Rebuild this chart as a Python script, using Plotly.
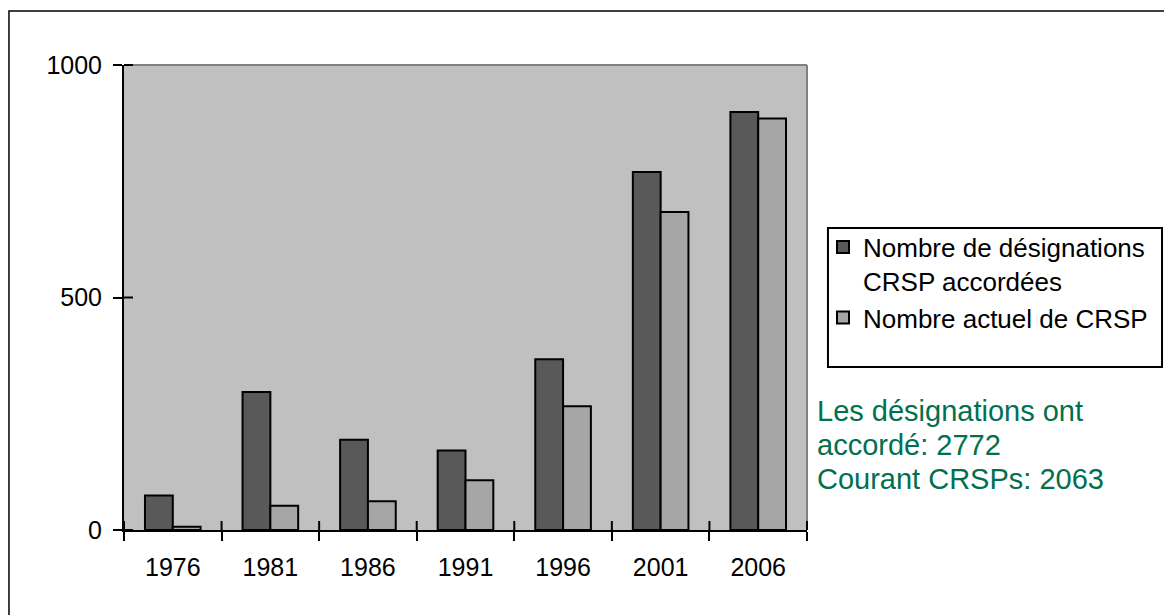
import plotly.graph_objects as go

years = ["1976", "1981", "1986", "1991", "1996", "2001", "2006"]
granted = [74, 297, 194, 171, 367, 770, 899]
current = [7, 52, 62, 107, 266, 684, 885]
series_names = ["Nombre de désignations<br>CRSP accordées", "Nombre actuel de CRSP"]
note_lines = ["Les désignations ont", "accordé: 2772", "Courant CRSPs: 2063"]
note_y = [0.2559, 0.1828, 0.1097]
y_ticks = [0, 500, 1000]

FONT = "Liberation Sans, Arial, sans-serif"
TICKLEN = 9

fig = go.Figure()
fig.add_trace(go.Bar(x=years, y=granted, name=series_names[0],
                     marker=dict(color="#595959", line=dict(color="black", width=2))))
fig.add_trace(go.Bar(x=years, y=current, name=series_names[1],
                     marker=dict(color="#A6A6A6", line=dict(color="black", width=2))))

fig.update_layout(
    width=1164, height=607,
    margin=dict(l=116, r=365, t=57, b=85),
    paper_bgcolor="white",
    plot_bgcolor="#C0C0C0",
    barmode="group",
    bargap=0.43,
    bargroupgap=0,
    font=dict(family=FONT, color="black", size=25),
    showlegend=True,
    legend=dict(x=1.0234, y=0.659, xanchor="left", yanchor="top",
                bgcolor="rgba(0,0,0,0)", borderwidth=0, valign="top",
                font=dict(size=26, family=FONT), tracegroupgap=0),
    xaxis=dict(type="category", categoryorder="array", categoryarray=years,
               range=[-0.5, len(years) - 0.5], tickson="boundaries", ticks="outside",
               ticklen=TICKLEN, tickwidth=2, tickcolor="black", showline=True,
               linecolor="black", linewidth=2, showgrid=False, zeroline=False,
               ticklabelstandoff=14, tickfont=dict(size=25, family=FONT)),
    yaxis=dict(range=[0, 1000], tickvals=y_ticks, ticks="outside", ticklen=TICKLEN,
               tickwidth=2, tickcolor="black", showline=True, linecolor="black",
               linewidth=2, showgrid=False, zeroline=False, ticklabelstandoff=6,
               tickfont=dict(size=25, family=FONT)),
)

shapes = [
    # gray top and right plot-area border
    dict(type="line", xref="paper", yref="paper", x0=0, x1=1, y0=1, y1=1,
         line=dict(color="#808080", width=2)),
    dict(type="line", xref="paper", yref="paper", x0=1, x1=1, y0=0, y1=1,
         line=dict(color="#808080", width=2)),
    # legend box
    dict(type="rect", xref="paper", yref="paper", x0=1.0307, x1=1.5198, y0=0.3505, y1=0.6495,
         line=dict(color="black", width=2), fillcolor="rgba(0,0,0,0)"),
    # outer chart frame (extends past the image)
    dict(type="rect", xref="paper", yref="paper", x0=-0.1684, x1=1.8, y0=-0.4, y1=1.116,
         line=dict(color="black", width=1.5), fillcolor="rgba(0,0,0,0)", layer="below"),
]
# inner halves of the crossing tick marks (Excel style)
for i in range(len(years) + 1):
    shapes.append(dict(type="line", xref="paper", yref="paper",
                       x0=i / len(years), x1=i / len(years),
                       y0=0, y1=TICKLEN / 465.0,
                       line=dict(color="black", width=2)))
for v in y_ticks:
    shapes.append(dict(type="line", xref="paper", yref="paper",
                       y0=v / 1000.0, y1=v / 1000.0,
                       x0=0, x1=TICKLEN / 683.0,
                       line=dict(color="black", width=2)))
fig.update_layout(shapes=shapes)

for line, yy in zip(note_lines, note_y):
    fig.add_annotation(xref="paper", yref="paper", x=1.012, y=yy, xanchor="left",
                       yanchor="middle", text=line, showarrow=False, align="left",
                       font=dict(size=29, family=FONT, color="#00704F"))

fig.write_html("out.html")
